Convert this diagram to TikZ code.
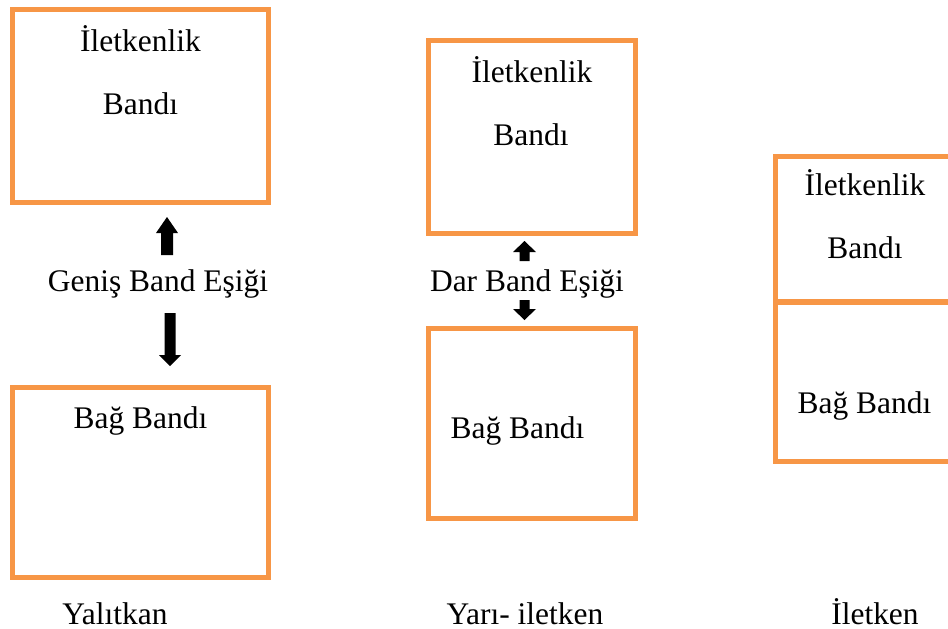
\documentclass[tikz,border=0pt]{standalone}
\usepackage{fontspec}
\setmainfont{Liberation Serif}
\usepackage{tikz}

\definecolor{bandorange}{HTML}{F79646}

% filled block arrow: x, base y, head base y, tip y, shaft half width, head half width
\newcommand{\gaparrow}[6]{%
  \fill[gapfill] (#1-#5,#2) -- (#1-#5,#3) -- (#1-#6,#3) -- (#1,#4)
    -- (#1+#6,#3) -- (#1+#5,#3) -- (#1+#5,#2) -- cycle;}

\tikzset{
  band/.style={draw=bandorange, line width=2.85pt, rectangle, inner sep=0pt},
  lbl/.style={font=\fontsize{17.9}{21}\selectfont, inner sep=0pt, anchor=base},
  gapfill/.style={fill=black}
}

\begin{document}
\begin{tikzpicture}[x=0.02cm, y=-0.02cm]
\useasboundingbox (0,0) rectangle (948,629);
\clip (0,0) rectangle (948,629);

% Yalitkan
\node[band, minimum width=5.12cm, minimum height=3.86cm] (iletA) at (140.5,106) {};
\node[band, minimum width=5.12cm, minimum height=3.80cm] (bagA) at (140.5,482.5) {};
\node[lbl] (iletAa) at (140.5,51) {İletkenlik};
\node[lbl] (iletAb) at (140.5,114) {Bandı};
\node[lbl] (bagAa) at (140.5,428) {Bağ Bandı};
\node[lbl] (esikA) at (158,291) {Geniş Band Eşiği};
\gaparrow{167}{255}{233}{217}{6}{11}
\gaparrow{170}{313}{355}{366}{5.5}{11}
\node[lbl] (adA) at (115,624) {Yalıtkan};

% Yari-iletken
\node[band, minimum width=4.14cm, minimum height=3.86cm] (iletB) at (532,137) {};
\node[band, minimum width=4.14cm, minimum height=3.80cm] (bagB) at (532,423.5) {};
\node[lbl] (iletBa) at (532,82) {İletkenlik};
\node[lbl] (iletBb) at (531,145) {Bandı};
\node[lbl] (bagBa) at (517.5,438) {Bağ Bandı};
\node[lbl] (esikB) at (527,291) {Dar Band Eşiği};
\gaparrow{524.5}{261}{252}{241}{5}{11.5}
\gaparrow{524.5}{300}{309}{320}{5}{11.5}
\node[lbl] (adB) at (525,624) {Yarı- iletken};

% Iletken
\node[band, minimum width=5.2cm, minimum height=2.91cm] (iletC) at (905.5,229.25) {};
\node[band, minimum width=5.2cm, minimum height=3.19cm] (bagC) at (905.5,381.75) {};
\node[lbl] (iletCa) at (865,195) {İletkenlik};
\node[lbl] (iletCb) at (865,258) {Bandı};
\node[lbl] (bagCa) at (864.5,413) {Bağ Bandı};
\node[lbl] (adC) at (875,624) {İletken};
\end{tikzpicture}
\end{document}
